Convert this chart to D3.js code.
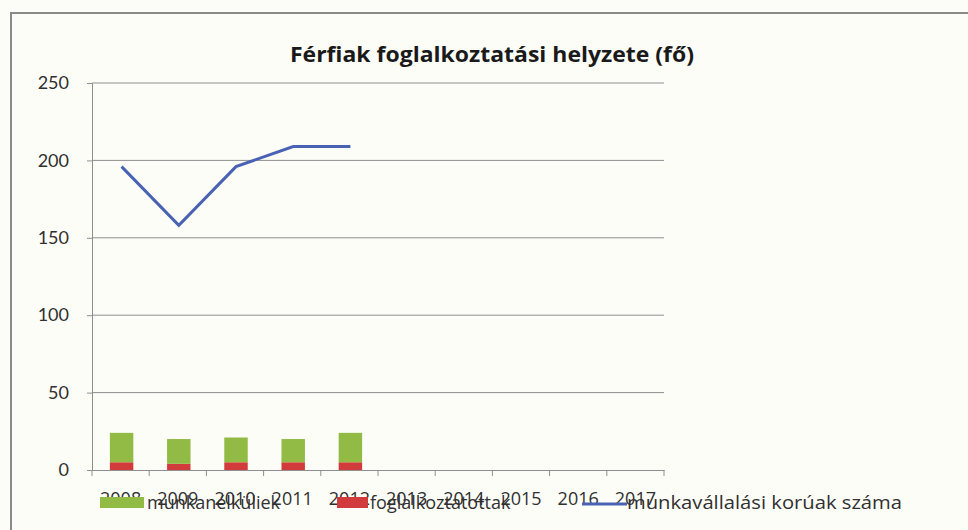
<!DOCTYPE html>
<html>
<head>
<meta charset="utf-8">
<script src="https://cdn.jsdelivr.net/npm/d3@7"></script>
<style>
  html, body { margin: 0; padding: 0; background: #fdfdf8; }
  svg { display: block; font-family: "Open Sans", Lato, sans-serif; }
</style>
</head>
<body>
<svg id="chart" width="968" height="530"></svg>
<script>
const years = ["2008", "2009", "2010", "2011", "2012", "2013", "2014", "2015", "2016", "2017"];
const dataYears = ["2008", "2009", "2010", "2011", "2012"];
const munkanelkuliek = [19, 16, 16, 15, 19];
const foglalkoztatottak = [5, 4, 5, 5, 5];
const munkavallalasiKoruak = [196, 158, 196, 209, 209];
const yTicks = [0, 50, 100, 150, 200, 250];

const svg = d3.select("#chart");

svg.append("rect")
  .attr("width", 968)
  .attr("height", 530)
  .attr("fill", "#fdfdf8");

// chart frame (only top and left edges are visible)
svg.append("path")
  .attr("d", "M11,532 L11,13 L970,13")
  .attr("fill", "none")
  .attr("stroke", "#8a8a86")
  .attr("stroke-width", 2);

svg.append("text")
  .attr("x", 492)
  .attr("y", 62)
  .attr("text-anchor", "middle")
  .attr("font-size", 21)
  .attr("font-weight", "bold")
  .attr("fill", "#1a1a1a")
  .attr("textLength", 404)
  .attr("lengthAdjust", "spacingAndGlyphs")
  .text("Férfiak foglalkoztatási helyzete (fő)");

const x = d3.scaleBand().domain(years).range([92, 664]).padding(0);
const y = d3.scaleLinear().domain([0, 250]).range([470, 83]);

const g = svg.append("g");

// gridlines
g.selectAll("line.grid")
  .data(yTicks.filter((d) => d > 0))
  .join("line")
  .attr("class", "grid")
  .attr("x1", 92)
  .attr("x2", 664)
  .attr("y1", (d) => y(d))
  .attr("y2", (d) => y(d))
  .attr("stroke", "#8e8e8e")
  .attr("stroke-width", 1);

// y axis
const yAxis = g.append("g")
  .attr("transform", "translate(92,0)")
  .call(d3.axisLeft(y).tickValues(yTicks).tickSize(5).tickPadding(18));
yAxis.select(".domain").attr("stroke", "#8e8e8e");
yAxis.selectAll(".tick line").attr("stroke", "#8e8e8e");
yAxis.selectAll(".tick text")
  .attr("font-size", 18)
  .attr("fill", "#303030")
  .attr("font-family", "Lato, sans-serif");

// bars: stacked, foglalkoztatottak at bottom
const barW = x.bandwidth() * 0.41;
const barData = dataYears.map((yr, i) => ({
  yr,
  f: foglalkoztatottak[i],
  m: munkanelkuliek[i],
}));

g.selectAll("rect.red")
  .data(barData)
  .join("rect")
  .attr("class", "red")
  .attr("x", (d) => x(d.yr) + (x.bandwidth() - barW) / 2 + 1)
  .attr("width", barW)
  .attr("y", (d) => y(d.f))
  .attr("height", (d) => y(0) - y(d.f))
  .attr("fill", "#d23b3b");

g.selectAll("rect.green")
  .data(barData)
  .join("rect")
  .attr("class", "green")
  .attr("x", (d) => x(d.yr) + (x.bandwidth() - barW) / 2 + 1)
  .attr("width", barW)
  .attr("y", (d) => y(d.f + d.m))
  .attr("height", (d) => y(d.f) - y(d.f + d.m))
  .attr("fill", "#92bb45");

// x axis
const xAxis = g.append("g")
  .attr("transform", "translate(0,470)")
  .call(d3.axisBottom(x).tickSize(0).tickPadding(22));
xAxis.select(".domain").attr("stroke", "#8e8e8e");
xAxis.selectAll(".tick text")
  .attr("font-size", 18)
  .attr("fill", "#303030")
  .attr("font-family", "Open Sans, sans-serif");
g.selectAll("line.xtick")
  .data(d3.range(years.length + 1))
  .join("line")
  .attr("class", "xtick")
  .attr("x1", (i) => 92 + i * x.step())
  .attr("x2", (i) => 92 + i * x.step())
  .attr("y1", 470)
  .attr("y2", 476)
  .attr("stroke", "#8e8e8e");

// line
const line = d3.line()
  .x((d, i) => x(dataYears[i]) + x.bandwidth() / 2 + 1)
  .y((d) => y(d));
g.append("path")
  .datum(munkavallalasiKoruak)
  .attr("d", line)
  .attr("fill", "none")
  .attr("stroke", "#4a62b4")
  .attr("stroke-width", 3);

// legend (overlaps the category labels as in the original)
const legend = svg.append("g").attr("font-size", 18).attr("fill", "#303030");
legend.append("rect").attr("x", 100).attr("y", 497).attr("width", 44).attr("height", 11).attr("fill", "#92bb45");
legend.append("text").attr("x", 147).attr("y", 509).text("munkanélküliek");
legend.append("rect").attr("x", 337).attr("y", 497).attr("width", 31).attr("height", 11).attr("fill", "#d23b3b");
legend.append("text").attr("x", 370).attr("y", 509).text("foglalkoztatottak");
legend.append("line").attr("x1", 582).attr("x2", 627).attr("y1", 504).attr("y2", 504)
  .attr("stroke", "#4a62b4").attr("stroke-width", 3);
legend.append("text").attr("x", 627).attr("y", 509)
  .attr("textLength", 275)
  .attr("lengthAdjust", "spacingAndGlyphs")
  .text("munkavállalási korúak száma");
</script>
</body>
</html>
